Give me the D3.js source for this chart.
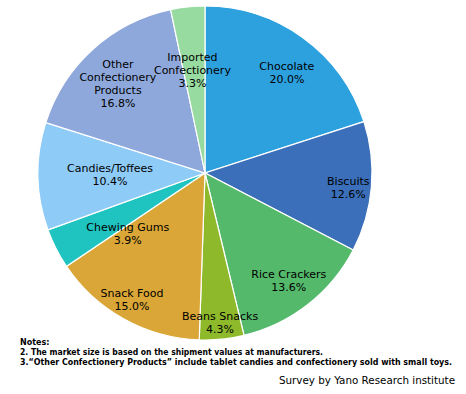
<!DOCTYPE html>
<html>
<head>
<meta charset="utf-8">
<script src="https://cdn.jsdelivr.net/npm/d3@7"></script>
<style>
  body { margin: 0; background: #fff; }
  text { font-family: "DejaVu Sans", sans-serif; fill: #000; }
</style>
</head>
<body>
<svg width="466" height="394"></svg>
<script>
// slice data, clockwise from 12 o'clock
var categories = ["Chocolate", "Biscuits", "Rice Crackers", "Beans Snacks", "Snack Food",
    "Chewing Gums", "Candies/Toffees", "Other Confectionery Products", "Imported Confectionery"]
var shares = [20.0, 12.6, 13.6, 4.3, 15.0, 3.9, 10.4, 16.8, 3.3]
var labelLines = [["Chocolate"], ["Biscuits"], ["Rice Crackers"], ["Beans Snacks"], ["Snack Food"],
    ["Chewing Gums"], ["Candies/Toffees"], ["Other", "Confectionery", "Products"], ["Imported", "Confectionery"]]
var notes = ["Notes:",
    "2. The market size is based on the shipment values at manufacturers.",
    "3.\u201cOther Confectionery Products\u201d include tablet candies and confectionery sold with small toys."]
var source = "Survey by Yano Research institute"

var colors = ["#2da0de", "#3b6fb9", "#55b96b", "#8eb92a", "#d9a637", "#1fc3bf", "#8ecbf6", "#8ea8dc", "#98dba0"]
// label radius and angle nudge (deg) per slice, like excel's best fit
var labelPos = [[130, 3], [144, 1], [136, 0], [150, 0], [146, 1], [98, -11], [95, 0], [125, -2], [104, -1]]

var svg = d3.select("svg")
var cx = 205, cy = 173, radius = 167

var g = svg.append("g").attr("transform", "translate(" + cx + "," + cy + ")")

var pie = d3.pie().sort(null).value(function (d) { return d })
var arcs = pie(shares)
var arc = d3.arc().innerRadius(0).outerRadius(radius)

g.selectAll("path.slice")
    .data(arcs)
    .enter().append("path")
    .attr("class", "slice")
    .attr("d", arc)
    .attr("fill", function (d, i) { return colors[i] })
    .attr("stroke", "#fff")
    .attr("stroke-width", 1.2)

var lineH = 13
arcs.forEach(function (d, i) {
    var r = labelPos[i][0]
    var a = (d.startAngle + d.endAngle) / 2 + labelPos[i][1] * Math.PI / 180
    var x = r * Math.sin(a), y = -r * Math.cos(a)
    var lines = labelLines[i].concat([shares[i].toFixed(1) + "%"])
    var t = g.append("text")
        .attr("text-anchor", "middle")
        .attr("font-size", 11)
    lines.forEach(function (l, j) {
        t.append("tspan")
            .attr("x", x)
            .attr("y", y + (j - (lines.length - 1) / 2) * lineH + 4)
            .text(l)
    })
})

var noteY = [345, 355, 365]
var noteW = [null, 303, 432]
notes.forEach(function (n, i) {
    var t = svg.append("text")
        .attr("x", 20)
        .attr("y", noteY[i])
        .attr("font-size", 8)
        .attr("font-weight", "bold")
        .text(n)
    if (noteW[i]) t.attr("textLength", noteW[i]).attr("lengthAdjust", "spacingAndGlyphs")
})

svg.append("text")
    .attr("x", 455)
    .attr("y", 384)
    .attr("text-anchor", "end")
    .attr("font-size", 11)
    .attr("textLength", 176)
    .attr("lengthAdjust", "spacingAndGlyphs")
    .text(source)
</script>
</body>
</html>
